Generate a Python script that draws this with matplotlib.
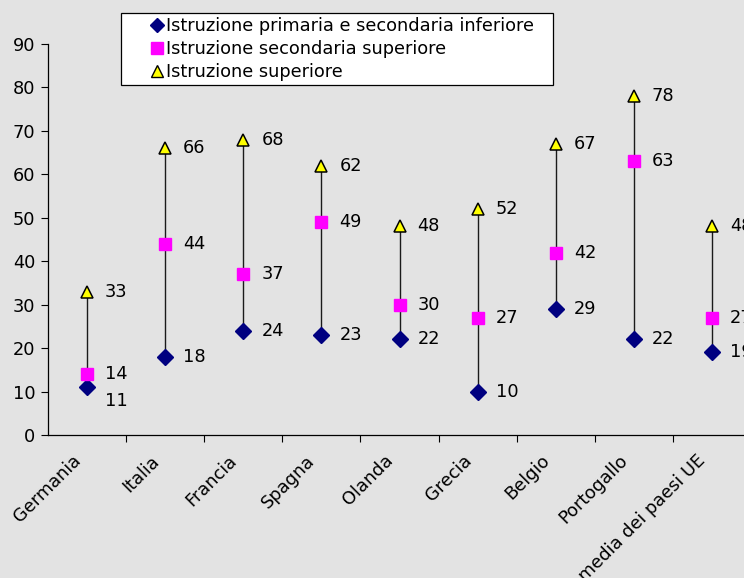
import matplotlib
matplotlib.use("Agg")
import matplotlib.pyplot as plt
from matplotlib.lines import Line2D
from matplotlib.patches import Rectangle
from matplotlib.transforms import ScaledTranslation
import numpy as np

# Percentuali per paese e livello di istruzione
paesi = ["Germania", "Italia", "Francia", "Spagna", "Olanda", "Grecia",
         "Belgio", "Portogallo", "media dei paesi UE"]
primaria = [11, 18, 24, 23, 22, 10, 29, 22, 19]
secondaria = [14, 44, 37, 49, 30, 27, 42, 63, 27]
superiore = [33, 66, 68, 62, 48, 52, 67, 78, 48]

serie_nomi = ["Istruzione primaria e secondaria inferiore",
              "Istruzione secondaria superiore",
              "Istruzione superiore"]
y_ticks = [0, 10, 20, 30, 40, 50, 60, 70, 80, 90]

bg = "#E3E3E3"
plt.rcParams["font.family"] = ["DejaVu Sans"]
fs = 12.8

W, H = 744, 578
fig = plt.figure(figsize=(W / 100, H / 100), dpi=100, facecolor=bg)
left, right, bottom, top = 48, 751, 435, 44
ax = fig.add_axes([left / W, 1 - bottom / H, (right - left) / W, (bottom - top) / H])
ax.set_facecolor(bg)

x = np.arange(len(paesi))

# Linee massimo-minimo
ax.vlines(x, primaria, superiore, color="#1a1a1a", lw=1.0, zorder=2)

ax.plot(x, primaria, ls="none", marker="D", ms=8, color="#000080",
        mec="#000080", zorder=3, clip_on=False)
ax.plot(x, secondaria, ls="none", marker="s", ms=8, color="#FF00FF",
        mec="#FF00FF", zorder=3, clip_on=False)
ax.plot(x, superiore, ls="none", marker="^", ms=8.5, color="#FFFF00",
        mec="black", mew=1.1, zorder=4, clip_on=False)

# Etichette dei valori a destra dei punti
def etichetta(xi, v, dy=0):
    ax.annotate(str(v), (xi, v), xytext=(13, dy), textcoords="offset points",
                ha="left", va="center", fontsize=fs, color="black",
                annotation_clip=False)

for i in range(len(paesi)):
    etichetta(x[i], superiore[i])
    etichetta(x[i], secondaria[i])
    dy = -10 if abs(secondaria[i] - primaria[i]) < 5 else 0
    etichetta(x[i], primaria[i], dy)

ax.set_xlim(-0.5, len(paesi) - 0.5)
ax.set_ylim(0, 90)
ax.set_yticks(y_ticks)
ax.tick_params(axis="y", direction="out", length=5, width=0.8,
               labelsize=fs, pad=4)

# Tacche sui confini tra categorie, etichette al centro
ax.set_xticks(np.arange(len(paesi)) + 0.5)
ax.set_xticklabels([])
ax.tick_params(axis="x", which="major", direction="out", length=5, width=0.8)
ax.set_xticks(x, minor=True)
ax.set_xticklabels(paesi, minor=True, rotation=45, ha="right", va="top",
                   rotation_mode="anchor", fontsize=fs)
ax.tick_params(axis="x", which="minor", length=0, pad=12)
shift = ScaledTranslation(-11 / 72, 0, fig.dpi_scale_trans)
for lab in ax.get_xticklabels(minor=True):
    lab.set_transform(lab.get_transform() + shift)

for s in ["top", "right"]:
    ax.spines[s].set_visible(False)
for s in ["left", "bottom"]:
    ax.spines[s].set_linewidth(0.9)
    ax.spines[s].set_color("black")

# Riquadro della legenda
fig.patches.append(Rectangle((121 / W, 1 - 85 / H), (553 - 121) / W, (85 - 13) / H,
                             transform=fig.transFigure, facecolor="white",
                             edgecolor="black", lw=0.9, zorder=5))

handles = [
    Line2D([], [], ls="none", marker="D", ms=7, color="#000080"),
    Line2D([], [], ls="none", marker="s", ms=8, color="#FF00FF"),
    Line2D([], [], ls="none", marker="^", ms=8, color="#FFFF00", mec="black"),
]
leg = fig.legend(handles, serie_nomi, loc="upper left",
                 bbox_to_anchor=(151 / W, 1 - 17 / H), fontsize=fs,
                 frameon=False, handlelength=0.65, handletextpad=0.2,
                 borderpad=0, labelspacing=0.29, borderaxespad=0)
leg.set_zorder(6)

fig.savefig("out.png", dpi=100, facecolor=bg)
